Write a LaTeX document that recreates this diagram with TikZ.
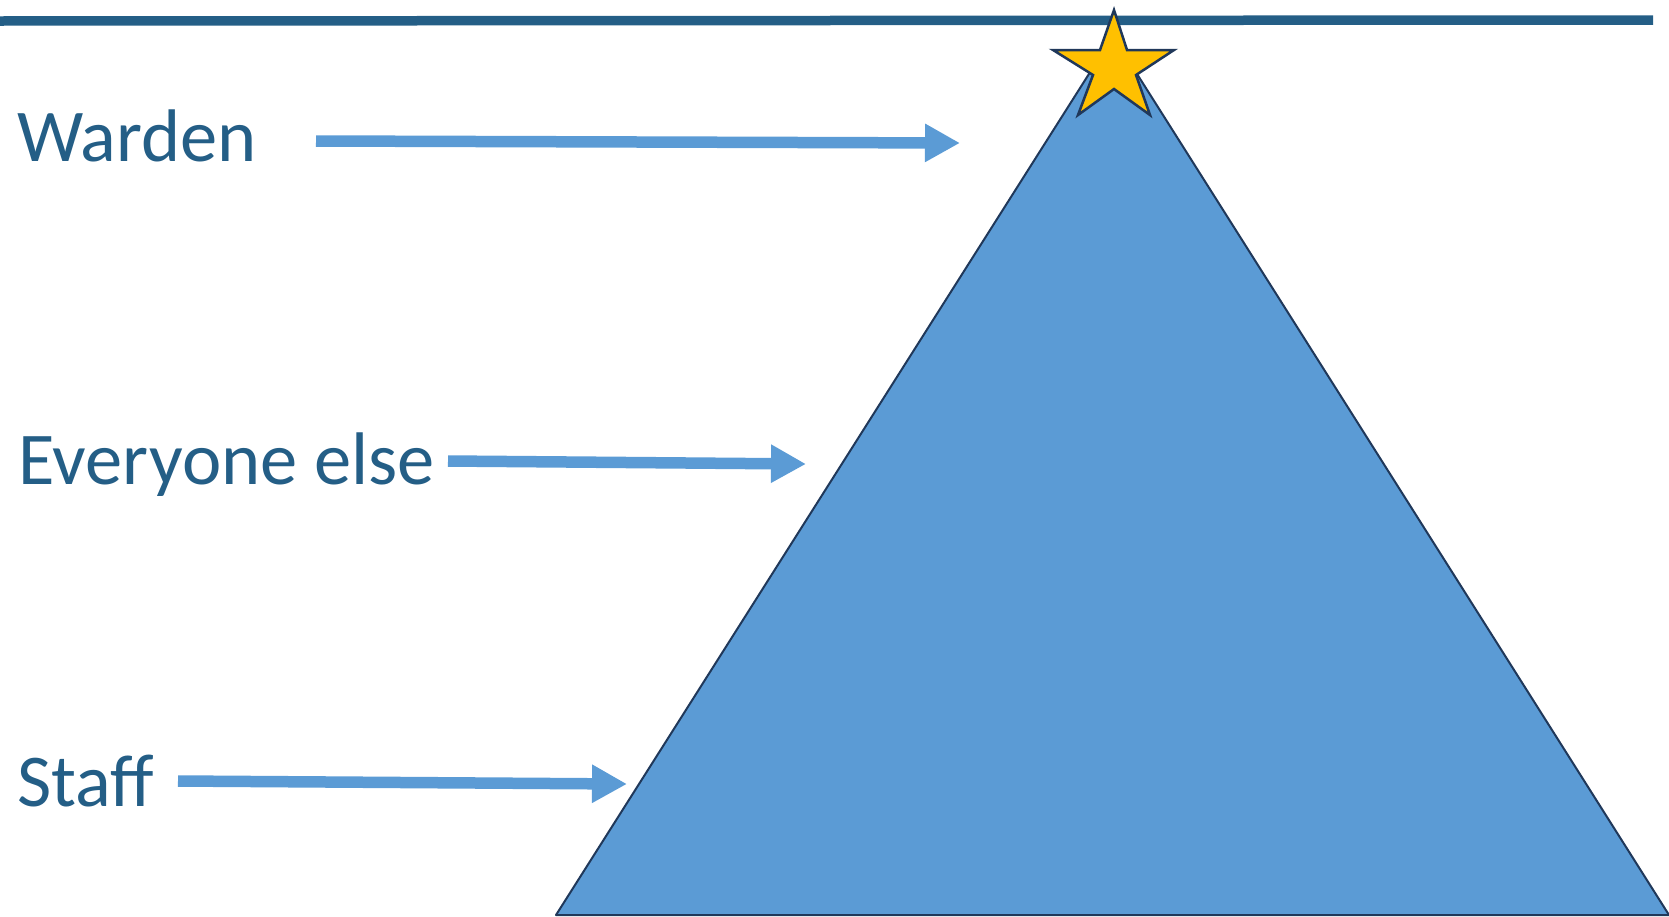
\documentclass[tikz,border=0pt]{standalone}
\usepackage{fontspec}
\setmainfont{Carlito}
\usepackage{tikz}
\usetikzlibrary{calc, positioning, arrows.meta}
\usepackage{xcolor}
\definecolor{colTexte}{RGB}{36, 94, 134}
\definecolor{colPyra}{RGB}{91, 155, 213}
\definecolor{colBord}{RGB}{32, 56, 90}
\definecolor{colEtoile}{RGB}{255, 192, 0}

\begin{document}
\begin{tikzpicture}[
  x=1pt, y=-1pt,
  rang/.style={font=\fontsize{74.5}{80}\selectfont, text=colTexte,
               inner sep=0pt, anchor=base west},
  fleche/.style={draw=colPyra, line width=11.5pt,
                 -{Triangle[length=35pt, width=36pt]}}
]
\useasboundingbox (0,0) rectangle (1669,916);

% ---------- Ligne du haut ----------
\draw[colTexte, line width=9.5pt] (0,21) -- (1653,20);

% ---------- Pyramide ----------
\coordinate (pbas1) at (556,915);
\coordinate (pbas2) at (1669,915);
\coordinate (psom)  at (1113,36);
\draw[fill=colPyra, draw=colBord, line width=2pt, line join=round]
  (pbas1) -- (psom) -- (pbas2) -- cycle;

% ---------- Etoile au sommet ----------
\draw[fill=colEtoile, draw=colBord, line width=2.5pt, line join=miter]
  (1114,10) -- (1127,50) -- (1174,50) -- (1136,75) -- (1150,115)
  -- (1114,89) -- (1078,115) -- (1093,75) -- (1053,50) -- (1100,50)
  -- cycle;

% ---------- Niveaux ----------
\node[rang] (warden) at (17,161) {Warden};
\node[rang] (autres) at (18,484) {Everyone else};
\node[rang] (staff)  at (17,806) {Staff};

% Extremites des fleches
\coordinate (w0) at (316,141);
\coordinate (w1) at (960,143);
\coordinate (a0) at (448,461);
\coordinate (a1) at (806,464);
\coordinate (s0) at (178,781);
\coordinate (s1) at (627,784);

% ---------- Fleches ----------
\draw[fleche] (w0) -- (w1);
\draw[fleche] (a0) -- (a1);
\draw[fleche] (s0) -- (s1);

\end{tikzpicture}
\end{document}
